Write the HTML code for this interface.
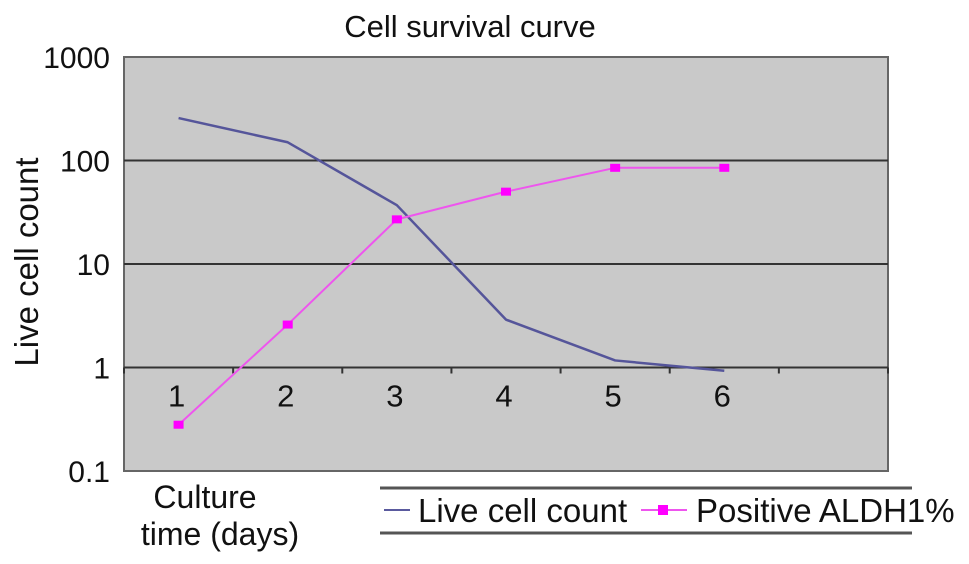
<!DOCTYPE html>
<html><head><meta charset="utf-8"><style>
html,body{margin:0;padding:0;background:#fff;}
svg{display:block;font-family:"Liberation Sans",sans-serif;}
</style></head><body>
<svg id="chart" width="969" height="564" viewBox="0 0 969 564">
  <text x="470" y="37" font-size="31" text-anchor="middle" fill="#111">Cell survival curve</text>
  <rect x="124" y="57" width="764" height="414" fill="#c9c9c9" stroke="#666" stroke-width="2"/>
  <g id="grid"></g>
  <g id="yticks"></g>
  <g id="xticks"></g>
  <g id="series"></g>
  <text transform="translate(38,262) rotate(-90)" font-size="33" text-anchor="middle" fill="#111">Live cell count</text>
  <text x="205" y="508" font-size="32" text-anchor="middle" fill="#111">Culture</text>
  <text x="220" y="545" font-size="32" text-anchor="middle" fill="#111">time (days)</text>
  <g>
    <line x1="380" y1="488" x2="912" y2="488" stroke="#555" stroke-width="3"/>
    <line x1="380" y1="533" x2="912" y2="533" stroke="#555" stroke-width="3"/>
    <line x1="384" y1="510" x2="410" y2="510" stroke="#5a5a9e" stroke-width="2"/>
    <text x="418" y="522" font-size="33" fill="#111">Live cell count</text>
    <line x1="641" y1="510" x2="687" y2="510" stroke="#ee55ee" stroke-width="2"/>
    <rect x="658" y="505" width="10" height="10" fill="#ff00ff"/>
    <text x="696" y="522" font-size="33" fill="#111">Positive ALDH1%</text>
  </g>
</svg>
<script>
const categories = ["1","2","3","4","5","6"];
const liveCount = [257, 150, 37, 2.9, 1.17, 0.93];
const aldhPercent = [0.28, 2.6, 27, 50, 85, 85];
const yTickValues = [1000, 100, 10, 1, 0.1];
const yTickLabels = ["1000","100","10","1","0.1"];

const NS = "http://www.w3.org/2000/svg";
const L = 124, R = 888, T = 57, B = 471, nSlots = 7;
const slot = (R - L) / nSlots;
function xPos(i){ return L + slot * (i + 0.5); }
function yPos(v){ return T + (3 - Math.log10(v)) / 4 * (B - T); }
function mk(tag, attrs, parent){ const e=document.createElementNS(NS,tag); for(const k in attrs) e.setAttribute(k,attrs[k]); parent.appendChild(e); return e; }

const grid = document.getElementById("grid");
const yt = document.getElementById("yticks");
yTickValues.forEach((v,i)=>{
  const y = yPos(v);
  if (i>0 && i<yTickValues.length-1) {
    const g = mk("line",{x1:L,x2:R,y1:y,y2:y,stroke:"#333","stroke-width":2},grid);
    
    
  }
  const t = mk("text",{x:110,y:y+11,"font-size":30,"text-anchor":"end",fill:"#111"},yt);
  t.textContent = yTickLabels[i];
  
  
});
const xt = document.getElementById("xticks");
const y1 = yPos(1);
for (let k=0;k<=nSlots;k++){
  const x = L + slot*k;
  const tk = mk("line",{x1:x,x2:x,y1:y1,y2:y1+6,stroke:"#333","stroke-width":2},xt);
  
  
}
categories.forEach((c,i)=>{
  const t = mk("text",{x:xPos(i)-2,y:y1+39,"font-size":31,"text-anchor":"middle",fill:"#111"},xt);
  t.textContent = c;
  
  
});

const s = document.getElementById("series");
const livePts = liveCount.map((v,i)=>xPos(i)+","+yPos(v)).join(" ");
const lp = mk("polyline",{points:livePts,fill:"none",stroke:"#55559a","stroke-width":2.5,"stroke-linejoin":"round"},s);


const aldhPts = aldhPercent.map((v,i)=>xPos(i)+","+yPos(v)).join(" ");
const ap = mk("polyline",{points:aldhPts,fill:"none",stroke:"#ee55ee","stroke-width":2,"stroke-linejoin":"round"},s);


aldhPercent.forEach((v,i)=>{
  const m = mk("rect",{x:xPos(i)-5,y:yPos(v)-4,width:10,height:8,fill:"#ff00ff"},s);
  
  
});
</script>
</body></html>
